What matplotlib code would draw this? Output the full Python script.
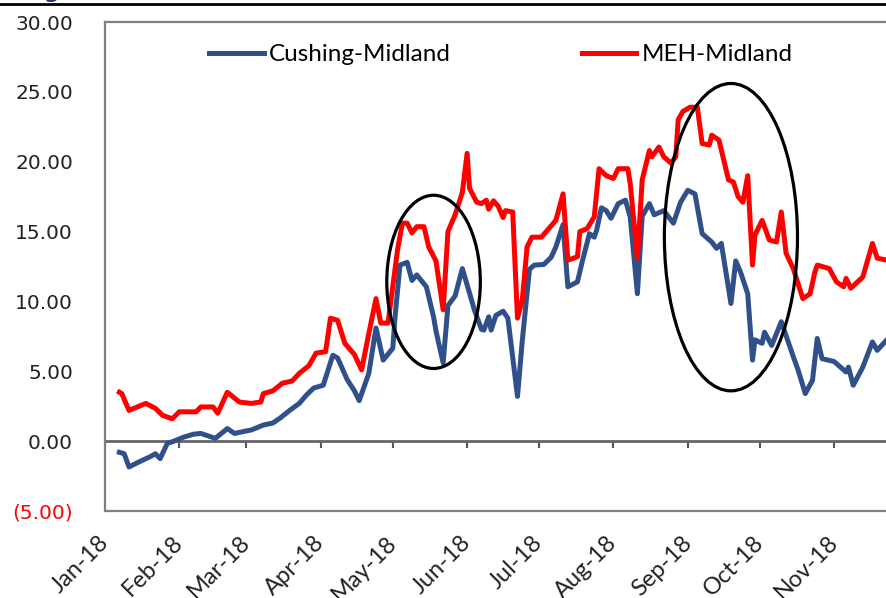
import matplotlib
matplotlib.use('Agg')
import matplotlib.pyplot as plt
import matplotlib.dates as mdates
from matplotlib.patches import Ellipse
from matplotlib.lines import Line2D
from matplotlib.transforms import ScaledTranslation
import pandas as pd

# Cushing-Midland spread ($/bbl)
cushing_dates = [
    '2018-01-07', '2018-01-09', '2018-01-11', '2018-01-15', '2018-01-20', '2018-01-22',
    '2018-01-24', '2018-01-27', '2018-01-29', '2018-02-03', '2018-02-07', '2018-02-10',
    '2018-02-16', '2018-02-21', '2018-02-24', '2018-02-28', '2018-03-03', '2018-03-08',
    '2018-03-12', '2018-03-15', '2018-03-19', '2018-03-23', '2018-03-26', '2018-03-29',
    '2018-04-02', '2018-04-06', '2018-04-08', '2018-04-12', '2018-04-15', '2018-04-17',
    '2018-04-21', '2018-04-24', '2018-04-27', '2018-05-01', '2018-05-02', '2018-05-04',
    '2018-05-07', '2018-05-09', '2018-05-11', '2018-05-15', '2018-05-18', '2018-05-19',
    '2018-05-22', '2018-05-24', '2018-05-27', '2018-05-30', '2018-06-02', '2018-06-04',
    '2018-06-07', '2018-06-08', '2018-06-10', '2018-06-11', '2018-06-13', '2018-06-16',
    '2018-06-18', '2018-06-22', '2018-06-24', '2018-06-27', '2018-06-29', '2018-07-03',
    '2018-07-06', '2018-07-08', '2018-07-11', '2018-07-13', '2018-07-17', '2018-07-19',
    '2018-07-22', '2018-07-24', '2018-07-25', '2018-07-27', '2018-07-29', '2018-07-31',
    '2018-08-03', '2018-08-06', '2018-08-08', '2018-08-11', '2018-08-13', '2018-08-16',
    '2018-08-18', '2018-08-22', '2018-08-26', '2018-08-29', '2018-09-01', '2018-09-04',
    '2018-09-07', '2018-09-11', '2018-09-13', '2018-09-15', '2018-09-19', '2018-09-21',
    '2018-09-23', '2018-09-26', '2018-09-28', '2018-09-29', '2018-10-02', '2018-10-03',
    '2018-10-06', '2018-10-10', '2018-10-15', '2018-10-17', '2018-10-20', '2018-10-23',
    '2018-10-25', '2018-10-27', '2018-11-01', '2018-11-06', '2018-11-07', '2018-11-09',
    '2018-11-13', '2018-11-17', '2018-11-19', '2018-11-23',
]
cushing = [
    -0.8, -0.9, -1.85, -1.5, -1.1, -0.9,
    -1.25, -0.15, -0.05, 0.3, 0.5, 0.55,
    0.2, 0.9, 0.55, 0.7, 0.8, 1.15,
    1.3, 1.65, 2.2, 2.7, 3.3, 3.8,
    4.0, 6.15, 5.95, 4.4, 3.6, 2.9,
    4.85, 8.1, 5.8, 6.65, 9.0, 12.6,
    12.8, 11.5, 11.9, 11.05, 8.9, 7.9,
    5.6, 9.7, 10.4, 12.35, 10.6, 9.4,
    8.0, 7.95, 8.9, 7.95, 9.0, 9.3,
    8.8, 3.2, 7.2, 12.3, 12.6, 12.65,
    13.15, 13.9, 15.5, 11.05, 11.4, 12.85,
    14.85, 14.6, 15.1, 16.7, 16.5, 15.95,
    17.0, 17.25, 16.05, 10.55, 16.1, 17.0,
    16.2, 16.5, 15.6, 17.1, 17.95, 17.7,
    14.85, 14.25, 13.8, 14.15, 9.85, 12.9,
    12.1, 10.55, 5.8, 7.25, 7.0, 7.8,
    6.85, 8.55, 6.05, 5.1, 3.4, 4.35,
    7.35, 5.9, 5.7, 4.95, 5.3, 4.0,
    5.3, 7.1, 6.5, 7.25,
]

# MEH-Midland spread ($/bbl)
meh_dates = [
    '2018-01-07', '2018-01-08', '2018-01-11', '2018-01-18', '2018-01-22', '2018-01-25',
    '2018-01-29', '2018-02-01', '2018-02-08', '2018-02-10', '2018-02-15', '2018-02-17',
    '2018-02-21', '2018-02-26', '2018-03-03', '2018-03-07', '2018-03-08', '2018-03-12',
    '2018-03-16', '2018-03-20', '2018-03-23', '2018-03-27', '2018-03-30', '2018-04-03',
    '2018-04-05', '2018-04-08', '2018-04-11', '2018-04-15', '2018-04-18', '2018-04-21',
    '2018-04-24', '2018-04-26', '2018-04-29', '2018-05-03', '2018-05-05', '2018-05-07',
    '2018-05-09', '2018-05-11', '2018-05-14', '2018-05-16', '2018-05-19', '2018-05-22',
    '2018-05-24', '2018-05-27', '2018-05-30', '2018-06-01', '2018-06-02', '2018-06-05',
    '2018-06-07', '2018-06-09', '2018-06-10', '2018-06-12', '2018-06-14', '2018-06-16',
    '2018-06-17', '2018-06-20', '2018-06-22', '2018-06-24', '2018-06-26', '2018-06-28',
    '2018-07-02', '2018-07-05', '2018-07-08', '2018-07-11', '2018-07-13', '2018-07-17',
    '2018-07-18', '2018-07-21', '2018-07-24', '2018-07-26', '2018-07-29', '2018-08-01',
    '2018-08-03', '2018-08-07', '2018-08-08', '2018-08-11', '2018-08-13', '2018-08-16',
    '2018-08-17', '2018-08-20', '2018-08-22', '2018-08-25', '2018-08-27', '2018-08-28',
    '2018-08-30', '2018-09-02', '2018-09-05', '2018-09-07', '2018-09-10', '2018-09-11',
    '2018-09-14', '2018-09-18', '2018-09-20', '2018-09-22', '2018-09-24', '2018-09-26',
    '2018-09-28', '2018-09-29', '2018-10-02', '2018-10-05', '2018-10-08', '2018-10-10',
    '2018-10-12', '2018-10-15', '2018-10-19', '2018-10-22', '2018-10-24', '2018-10-25',
    '2018-10-30', '2018-11-02', '2018-11-05', '2018-11-06', '2018-11-08', '2018-11-13',
    '2018-11-17', '2018-11-19', '2018-11-23',
]
meh = [
    3.5, 3.4, 2.2, 2.7, 2.35, 1.85,
    1.6, 2.1, 2.1, 2.45, 2.45, 2.0,
    3.5, 2.8, 2.7, 2.8, 3.4, 3.6,
    4.15, 4.3, 4.85, 5.4, 6.3, 6.4,
    8.8, 8.65, 7.0, 6.2, 5.1, 7.7,
    10.2, 8.45, 8.45, 13.7, 15.6, 15.6,
    14.9, 15.35, 15.35, 13.9, 12.9, 9.4,
    15.0, 16.2, 17.8, 20.6, 18.1, 17.1,
    17.0, 17.25, 16.6, 17.2, 16.8, 16.0,
    16.5, 16.4, 8.8, 10.1, 13.9, 14.6,
    14.6, 15.2, 15.8, 17.7, 12.95, 13.2,
    15.0, 15.2, 16.05, 19.5, 19.0, 18.8,
    19.5, 19.5, 18.45, 13.1, 18.7, 20.8,
    20.35, 21.05, 20.35, 19.9, 20.35, 23.0,
    23.6, 23.9, 23.9, 21.3, 21.2, 21.9,
    21.55, 18.7, 18.55, 17.5, 17.1, 19.0,
    12.6, 14.75, 15.8, 14.4, 14.25, 16.4,
    13.45, 12.35, 10.2, 10.55, 12.1, 12.6,
    12.35, 11.4, 11.05, 11.65, 10.95, 11.75,
    14.15, 13.1, 12.95,
]

months = pd.date_range('2018-01-01', '2018-11-01', freq='MS')
month_labels = [m.strftime('%b-%y') for m in months]
y_ticks = [-5, 0, 5, 10, 15, 20, 25, 30]

blue = '#2f5089'
red = '#ff0000'
grey = '#808080'

fig = plt.figure(figsize=(8.86, 5.98), dpi=100)
# axes run a little past the right edge, like the cropped original
ax = fig.add_axes([105 / 886, 87 / 598, 801 / 886, 489 / 598])

ax.plot(pd.to_datetime(cushing_dates), cushing, color=blue, lw=3.6,
        label='Cushing-Midland', solid_joinstyle='round')
ax.plot(pd.to_datetime(meh_dates), meh, color=red, lw=3.6,
        label='MEH-Midland', solid_joinstyle='round')

ax.set_xlim(pd.Timestamp('2018-01-01'), pd.Timestamp('2018-12-01'))
ax.set_ylim(-5, 30)

# circled areas
for c, v, w, h in [('2018-05-18', 11.4, 39, 12.4), ('2018-09-19', 14.6, 55.5, 22.0)]:
    ax.add_patch(Ellipse((mdates.date2num(pd.Timestamp(c)), v), w, h,
                         fill=False, ec='black', lw=2.3, zorder=5))

for s in ax.spines.values():
    s.set_color(grey)
    s.set_linewidth(1.6)

ax.set_yticks(y_ticks)
ax.set_yticklabels([f'({abs(t):.2f})' if t < 0 else f'{t:.2f}' for t in y_ticks],
                   family='DejaVu Sans', fontsize=14.5)
for t, lab in zip(y_ticks, ax.get_yticklabels()):
    lab.set_color(red if t < 0 else '#222222')
ax.tick_params(axis='y', length=0, pad=23)

ax.set_xticks(mdates.date2num(months))
ax.set_xticklabels(month_labels, rotation=45, ha='right', rotation_mode='anchor',
                   family='Lato', fontsize=17, color='#222222')
ax.tick_params(axis='x', length=0, pad=15)
shift = ScaledTranslation(-0.07, 0, fig.dpi_scale_trans)
for lab in ax.get_xticklabels():
    lab.set_transform(lab.get_transform() + shift)

# zero line carries the month ticks
zero = ax.secondary_xaxis(5 / 35)
zero.set_xticks(mdates.date2num(months))
zero.tick_params(axis='x', length=5, width=1.5, color='#555555', labelbottom=False,
                 labeltop=False)
for s in zero.spines.values():
    s.set_color('#666666')
    s.set_linewidth(2)

ax.legend(loc='center', bbox_to_anchor=(0.494, 0.933), ncol=2, frameon=False,
          prop={'family': 'Lato', 'size': 17.5}, handlelength=2.25,
          handletextpad=0.2, columnspacing=5.4)

# rule and cut-off heading at the top
fig.add_artist(Line2D([0, 1], [1 - 3.5 / 598] * 2, transform=fig.transFigure,
                      color='black', lw=2))
fig.text(44 / 886, 1 + 2 / 598, 'g', fontsize=16, fontweight='bold',
         color='#1f3864', va='baseline')

fig.savefig('out.png', dpi=100)
